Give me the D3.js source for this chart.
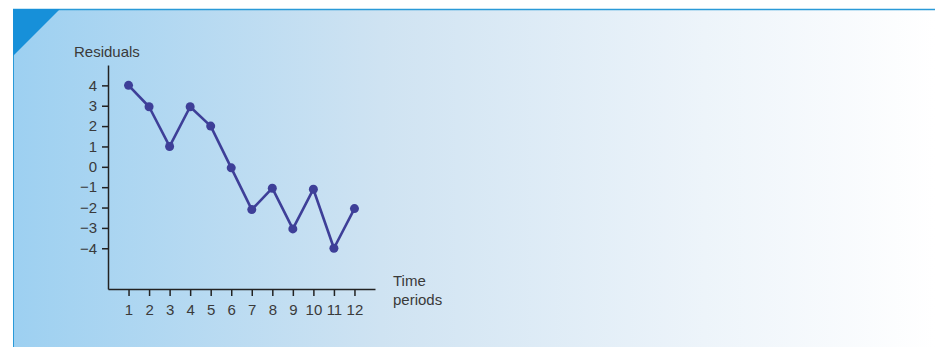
<!DOCTYPE html>
<html>
<head>
<meta charset="utf-8">
<script src="https://cdn.jsdelivr.net/npm/d3@7"></script>
<style>
  html, body { margin: 0; padding: 0; background: #fff; }
  svg { display: block; }
  text { font-family: "Liberation Sans", Arial, sans-serif; fill: #3a3a3a; }
</style>
</head>
<body>
<div id="chart"></div>
<script>
  "use strict";

  // data
  var periods = [1, 2, 3, 4, 5, 6, 7, 8, 9, 10, 11, 12];
  var residuals = [4, 2.95, 1, 2.95, 2, -0.05, -2.1, -1.05, -3.05, -1.1, -4, -2.05];
  var yTicks = [-4, -3, -2, -1, 0, 1, 2, 3, 4];

  var width = 935, height = 347;

  var svg = d3.select("#chart")
    .append("svg")
    .attr("width", width)
    .attr("height", height);

  // panel background
  var defs = svg.append("defs");
  var grad = defs.append("linearGradient")
    .attr("id", "bg")
    .attr("x1", "0").attr("x2", "1").attr("y1", "0").attr("y2", "0");
  grad.append("stop").attr("offset", "0").attr("stop-color", "#9dd0f1");
  grad.append("stop").attr("offset", "0.4").attr("stop-color", "#cfe3f2");
  grad.append("stop").attr("offset", "0.75").attr("stop-color", "#edf4fa");
  grad.append("stop").attr("offset", "1").attr("stop-color", "#ffffff");

  svg.append("rect")
    .attr("x", 13).attr("y", 9)
    .attr("width", width - 13).attr("height", height - 9)
    .attr("fill", "url(#bg)");

  svg.append("line")
    .attr("x1", 13).attr("x2", width).attr("y1", 9.5).attr("y2", 9.5)
    .attr("stroke", "#2a9ad8").attr("stroke-width", 1.5);
  svg.append("line")
    .attr("x1", 13.5).attr("x2", 13.5).attr("y1", 9).attr("y2", height)
    .attr("stroke", "#2a9ad8").attr("stroke-width", 1);

  svg.append("path")
    .attr("d", "M13,9L60,9L13,56Z")
    .attr("fill", "#1790d9");

  // scales
  var x = d3.scaleLinear().domain([0, 13]).range([108, 375]);
  var y = d3.scaleLinear().domain([-6, 5]).range([289, 65]);

  // axes
  var yAxis = d3.axisLeft(y)
    .tickValues(yTicks)
    .tickSize(6)
    .tickPadding(5)
    .tickSizeOuter(0)
    .tickFormat(function(d) { return d < 0 ? "\u2212" + Math.abs(d) : d; });

  var xAxis = d3.axisBottom(x)
    .tickValues(periods)
    .tickSize(7)
    .tickPadding(8)
    .tickSizeOuter(0);

  var gy = svg.append("g")
    .attr("transform", "translate(" + x(0) + ",0)")
    .call(yAxis);

  var gx = svg.append("g")
    .attr("transform", "translate(0," + y(-6) + ")")
    .call(xAxis);

  [gx, gy].forEach(function(g) {
    g.select(".domain").attr("stroke", "#222").attr("stroke-width", 1.5);
    g.selectAll(".tick line").attr("stroke", "#222").attr("stroke-width", 1.5);
    g.selectAll(".tick text")
      .attr("fill", "#3a3a3a")
      .style("font-size", "15px")
      .style("font-family", "'Liberation Sans', Arial, sans-serif");
  });

  // axis titles
  svg.append("text")
    .attr("x", 74).attr("y", 57)
    .style("font-size", "15px")
    .text("Residuals");

  svg.append("text")
    .attr("x", 393).attr("y", 286)
    .style("font-size", "15px")
    .text("Time");
  svg.append("text")
    .attr("x", 393).attr("y", 305)
    .style("font-size", "15px")
    .text("periods");

  // line + points
  var line = d3.line()
    .x(function(d, i) { return x(periods[i]); })
    .y(function(d) { return y(d); });

  svg.append("path")
    .datum(residuals)
    .attr("d", line)
    .attr("fill", "none")
    .attr("stroke", "#3e3f98")
    .attr("stroke-width", 2.6)
    .attr("stroke-linejoin", "round");

  svg.selectAll("circle.pt")
    .data(residuals)
    .enter()
    .append("circle")
    .attr("class", "pt")
    .attr("cx", function(d, i) { return x(periods[i]); })
    .attr("cy", function(d) { return y(d); })
    .attr("r", 4.5)
    .attr("fill", "#3e3f98");
</script>
</body>
</html>
